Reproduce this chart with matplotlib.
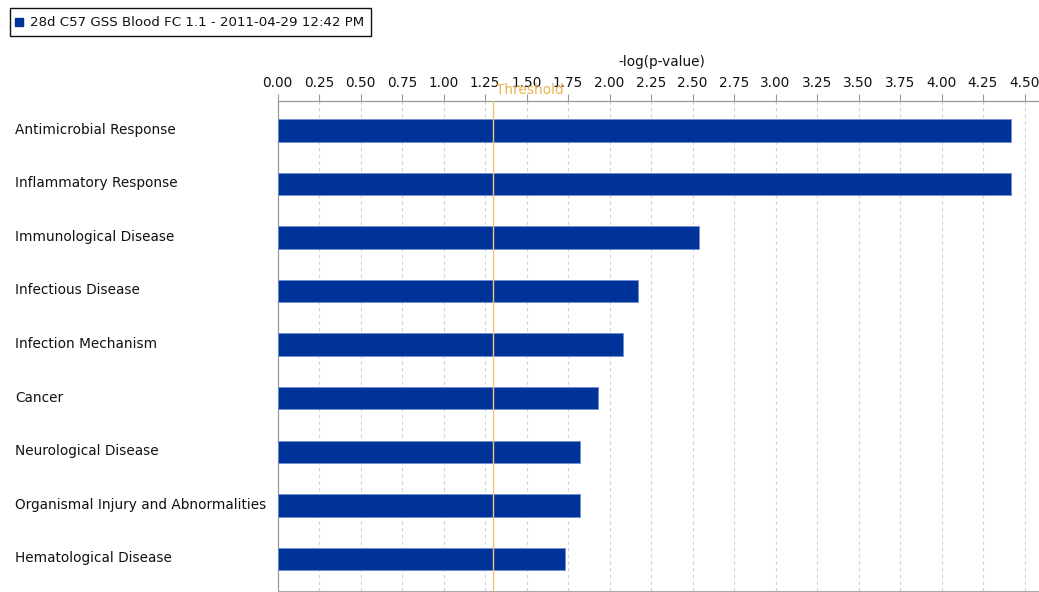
import matplotlib
matplotlib.use("Agg")
import matplotlib.pyplot as plt
from matplotlib.patches import Rectangle

categories = [
    "Antimicrobial Response",
    "Inflammatory Response",
    "Immunological Disease",
    "Infectious Disease",
    "Infection Mechanism",
    "Cancer",
    "Neurological Disease",
    "Organismal Injury and Abnormalities",
    "Hematological Disease",
]
values = [4.42, 4.42, 2.54, 2.17, 2.08, 1.93, 1.82, 1.82, 1.73]
threshold = 1.30
tick_values = [0.00, 0.25, 0.50, 0.75, 1.00, 1.25, 1.50, 1.75, 2.00, 2.25,
               2.50, 2.75, 3.00, 3.25, 3.50, 3.75, 4.00, 4.25, 4.50]
legend_label = "28d C57 GSS Blood FC 1.1 - 2011-04-29 12:42 PM"
axis_title = "-log(p-value)"

W, H = 1039, 592
fig = plt.figure(figsize=(W / 100, H / 100), dpi=100)
left_px, right_px, top_px, bottom_px = 277.5, 1039, 101, 591
ax = fig.add_axes([left_px / W, 1 - bottom_px / H,
                   (right_px - left_px) / W, (bottom_px - top_px) / H])

bar_color = "#003399"
txt_color = "#111111"
ypos = list(range(len(categories)))
ax.barh(ypos, values, height=0.42, color=bar_color, edgecolor="#6f8fd0",
        linewidth=0.6, zorder=3)

ax.set_xlim(0, (right_px - left_px) / 166.0)
ax.set_ylim(len(categories) - 1 + 0.6, -0.55)

ax.xaxis.tick_top()
ax.set_xticks(tick_values)
ax.set_xticklabels([f"{v:.2f}" for v in tick_values], fontsize=9.8,
                   color=txt_color)
ax.tick_params(axis="x", direction="out", length=5, width=0.8,
               color="#999999", pad=3)
ax.set_yticks([])
for x in tick_values[1:]:
    ax.axvline(x, color="#d0d0d0", linestyle=(0, (3, 3)), linewidth=0.8,
               zorder=1)

ax.axvline(threshold, color="#f3c27a", linewidth=1.0, zorder=4)
ax.text(threshold + 0.015, 1.022, "Threshold", transform=ax.get_xaxis_transform(),
        color="#f0b050", fontsize=9.8, ha="left", va="center", clip_on=False)

ax.spines["right"].set_visible(False)
ax.spines["bottom"].set_color("#aaaaaa")
ax.spines["top"].set_color("#999999")
ax.spines["left"].set_color("#999999")
ax.spines["top"].set_linewidth(0.9)
ax.spines["left"].set_linewidth(0.9)

for i, c in enumerate(categories):
    ax.text(15 / W, 1 - (130 + i * 53.5) / H, c, transform=fig.transFigure,
            fontsize=9.8, ha="left", va="center", color=txt_color)

fig.text(662 / W, 1 - 62 / H, axis_title, fontsize=9.8, ha="center",
         va="center", color=txt_color)

# legend box
fig.patches.append(Rectangle((10 / W, 1 - 36 / H), 361 / W, 28 / H,
                             transform=fig.transFigure, fill=False,
                             edgecolor="#111111", linewidth=1.0))
fig.patches.append(Rectangle((15 / W, 1 - 26 / H), 8 / W, 8 / H,
                             transform=fig.transFigure, facecolor=bar_color,
                             edgecolor=bar_color))
fig.text(30 / W, 1 - 22 / H, legend_label, fontsize=9.6, ha="left",
         va="center", color=txt_color)

fig.savefig("out.png", dpi=100)
